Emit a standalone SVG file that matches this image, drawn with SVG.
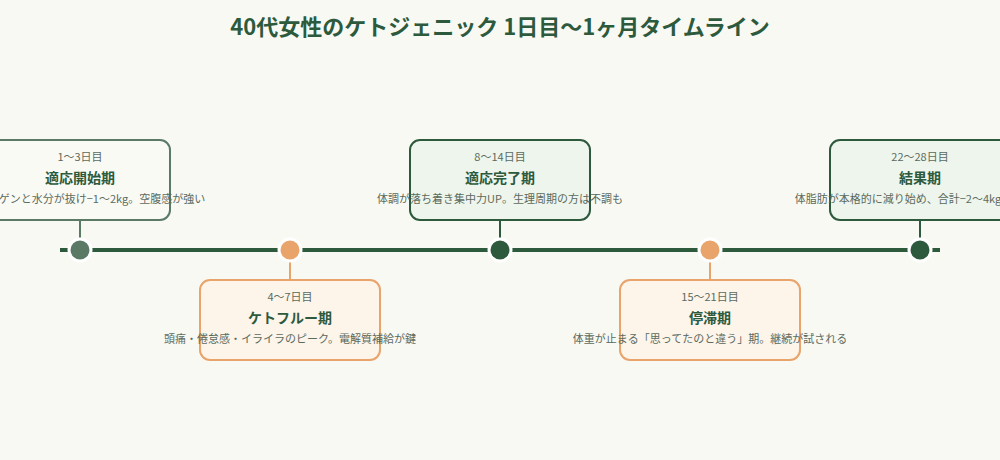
<svg xmlns="http://www.w3.org/2000/svg" width="1000" height="460" viewBox="0 0 1000 460">
<style>
text{font-family:"Noto Sans CJK JP","Noto Sans",sans-serif;text-anchor:middle}
.t{font-size:22px;font-weight:bold;fill:#2d5a3d}
.d{font-size:11px;fill:#5a6b5e}
.h{font-size:14px;font-weight:bold;fill:#2d5a3d}
.s{font-size:11px;fill:#5a6b5e}
.bx{stroke-width:2}
.g1{fill:#fafaf5;stroke:#5a7a65}
.g2{fill:#eef5ec;stroke:#2d5a3d}
.o{fill:#fdf4ea;stroke:#e8a46a}
.dot{stroke:#fff;stroke-width:3}
</style>
<rect width="1000" height="460" fill="#f9f9f4"/>
<text class="t" x="500" y="35">40代女性のケトジェニック 1日目〜1ヶ月タイムライン</text>
<g id="connectors">
<line x1="60" y1="250" x2="940" y2="250" stroke="#2d5a3d" stroke-width="4"/>
<line x1="80" y1="220" x2="80" y2="250" stroke="#5a7a65" stroke-width="2"/>
<line x1="290" y1="250" x2="290" y2="280" stroke="#e8a46a" stroke-width="2"/>
<line x1="500" y1="220" x2="500" y2="250" stroke="#2d5a3d" stroke-width="2"/>
<line x1="710" y1="250" x2="710" y2="280" stroke="#e8a46a" stroke-width="2"/>
<line x1="920" y1="220" x2="920" y2="250" stroke="#2d5a3d" stroke-width="2"/>
</g>
<g id="n1">
<rect class="bx g1" x="-10" y="140" width="180" height="80" rx="10"/>
<text class="d" x="80" y="161">1〜3日目</text>
<text class="h" x="80" y="183">適応開始期</text>
<text class="s" x="80" y="203">グリコーゲンと水分が抜け−1〜2kg。空腹感が強い</text>
<circle class="dot" cx="80" cy="250" r="11" fill="#5a7a65"/>
</g>
<g id="n2">
<rect class="bx o" x="200" y="280" width="180" height="80" rx="10"/>
<text class="d" x="290" y="301">4〜7日目</text>
<text class="h" x="290" y="323">ケトフルー期</text>
<text class="s" x="290" y="343">頭痛・倦怠感・イライラのピーク。電解質補給が鍵</text>
<circle class="dot" cx="290" cy="250" r="11" fill="#e8a46a"/>
</g>
<g id="n3">
<rect class="bx g2" x="410" y="140" width="180" height="80" rx="10"/>
<text class="d" x="500" y="161">8〜14日目</text>
<text class="h" x="500" y="183">適応完了期</text>
<text class="s" x="500" y="203">体調が落ち着き集中力UP。生理周期の方は不調も</text>
<circle class="dot" cx="500" cy="250" r="11" fill="#2d5a3d"/>
</g>
<g id="n4">
<rect class="bx o" x="620" y="280" width="180" height="80" rx="10"/>
<text class="d" x="710" y="301">15〜21日目</text>
<text class="h" x="710" y="323">停滞期</text>
<text class="s" x="710" y="343">体重が止まる「思ってたのと違う」期。継続が試される</text>
<circle class="dot" cx="710" cy="250" r="11" fill="#e8a46a"/>
</g>
<g id="n5">
<rect class="bx g2" x="830" y="140" width="180" height="80" rx="10"/>
<text class="d" x="920" y="161">22〜28日目</text>
<text class="h" x="920" y="183">結果期</text>
<text class="s" x="920" y="203">体脂肪が本格的に減り始め、合計−2〜4kg減を実感</text>
<circle class="dot" cx="920" cy="250" r="11" fill="#2d5a3d"/>
</g>
</svg>
